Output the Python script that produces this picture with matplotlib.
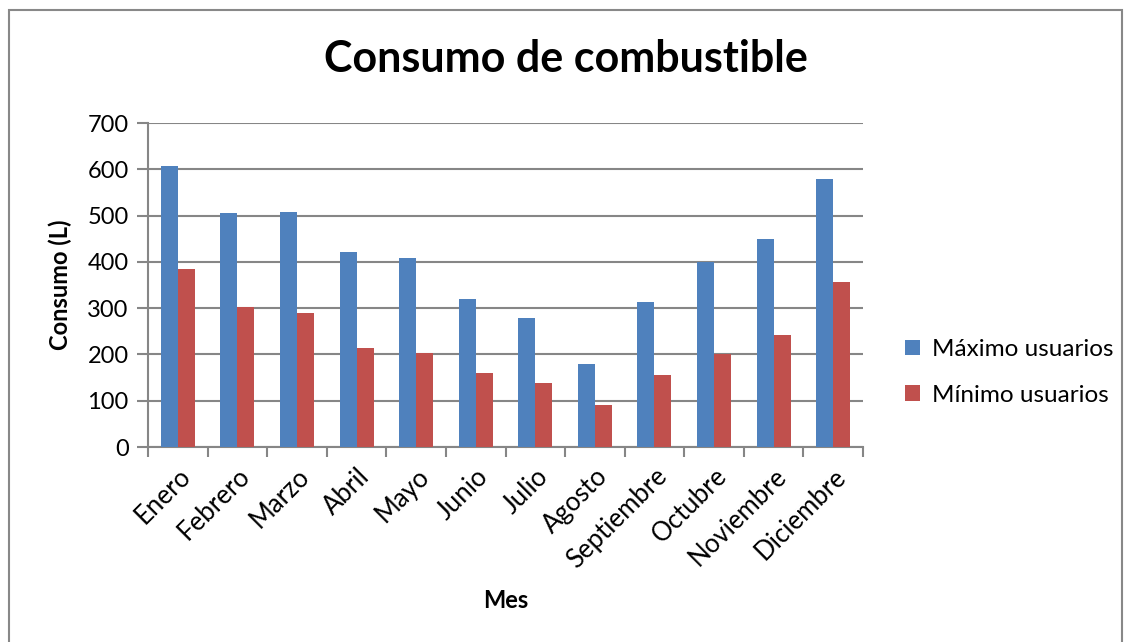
import numpy as np
import matplotlib.pyplot as plt
from matplotlib.patches import Rectangle

meses = ['Enero', 'Febrero', 'Marzo', 'Abril', 'Mayo', 'Junio', 'Julio',
         'Agosto', 'Septiembre', 'Octubre', 'Noviembre', 'Diciembre']
maximo = [608, 505, 507, 421, 408, 320, 279, 180, 313, 400, 450, 580]
minimo = [384, 302, 289, 214, 204, 160, 138, 90, 155, 200, 243, 356]

plt.rcParams['font.family'] = ['Lato', 'DejaVu Sans']

fig = plt.figure(figsize=(11.31, 6.42), dpi=100)
ax = fig.add_axes([0.1309, 0.3037, 0.6321, 0.5047])

# marco del grafico
fig.patches.append(Rectangle((9 / 1131, -0.1), 1113 / 1131, 1 - 10 / 642 + 0.1,
                             transform=fig.transFigure, fill=False,
                             edgecolor='#888888', linewidth=1.5))

x = np.arange(len(meses))
w = 0.285
ax.bar(x - w / 2, maximo, w, color='#4F81BD', label='Máximo usuarios', zorder=3)
ax.bar(x + w / 2, minimo, w, color='#C0504D', label='Mínimo usuarios', zorder=3)

ax.set_xlim(-0.5, len(meses) - 0.5)
ax.set_ylim(0, 700)
ax.set_yticks(range(0, 701, 100))
ax.yaxis.grid(True, color='#868686', linewidth=1.5, zorder=0)
ax.set_axisbelow(True)

ax.set_xticks(x)
ax.set_xticklabels(meses, rotation=45, ha='right', rotation_mode='anchor', fontsize=18.5)
ax.set_xticks(np.arange(len(meses) + 1) - 0.5, minor=True)
ax.tick_params(axis='x', which='major', length=0, pad=12)
ax.tick_params(axis='x', which='minor', length=7, width=1.5, color='#868686')
ax.tick_params(axis='y', length=8, width=1.5, color='#868686', labelsize=17, pad=6)

for s in ['top', 'right']:
    ax.spines[s].set_visible(False)
for s in ['left', 'bottom']:
    ax.spines[s].set_color('#868686')
    ax.spines[s].set_linewidth(1.5)

fig.text(0.5004, 0.908, 'Consumo de combustible', ha='center', va='center',
         fontsize=31, fontweight='bold')
fig.text(0.053, 0.556, 'Consumo (L)', ha='center', va='center', rotation=90,
         fontsize=17, fontweight='bold')
fig.text(0.4475, 0.064, 'Mes', ha='center', va='center', fontsize=17, fontweight='bold')

ax.legend(loc='center left', bbox_to_anchor=(0.781, 0.42), bbox_transform=fig.transFigure,
          frameon=False, fontsize=17.5, handlelength=0.6, handleheight=0.6,
          handletextpad=0.5, labelspacing=1.0)

fig.savefig('out.png', dpi=100)
